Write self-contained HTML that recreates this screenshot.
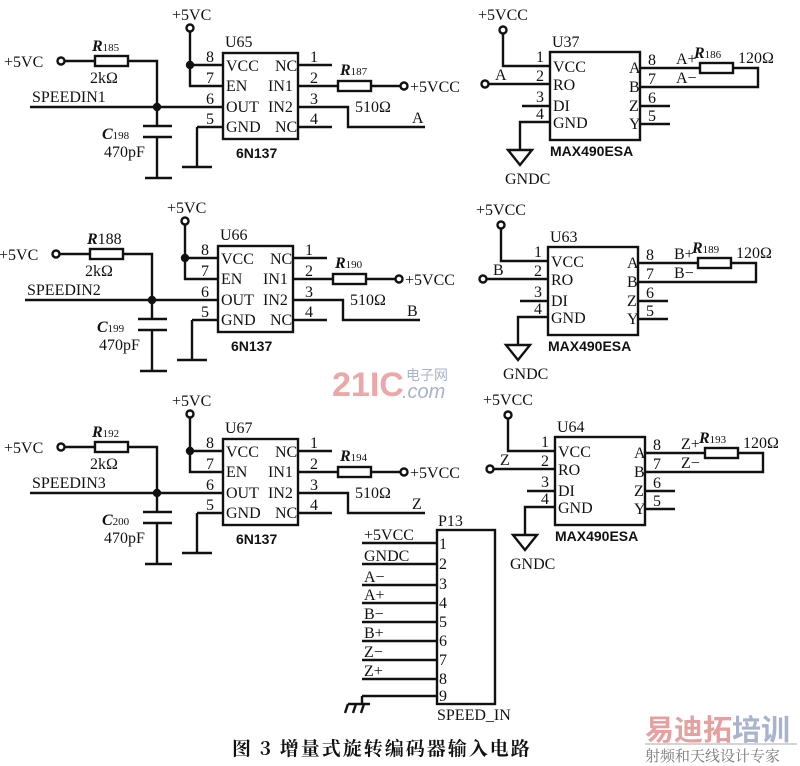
<!DOCTYPE html>
<html><head><meta charset="utf-8"><style>
html,body{margin:0;padding:0;background:#fff}
svg{display:block}
text{font-family:"Liberation Serif","Noto Serif CJK SC",serif;font-size:16px;fill:#111}
.b{font-family:"Liberation Sans",sans-serif;font-weight:bold;font-size:14px}
.s{font-size:11px}
.i{font-style:italic;font-weight:bold}
</style></head><body>
<svg width="800" height="766" viewBox="0 0 800 766" xmlns="http://www.w3.org/2000/svg">
<defs>
<g id="L" stroke="#111" stroke-width="2.4" fill="none">
<rect x="223" y="53" width="75" height="86"/>
<circle cx="190" cy="28" r="3.5"/>
<path d="M190 32V86H223M190 65H223M197 127H223M197 127V167M182 167H212"/>
<circle cx="61" cy="61" r="3.5"/>
<path d="M65 61H95M128 61H157V107M30 107H223M157 107V126M143 126H172M143 137H172M157 137V178M145 178H172"/>
<rect x="95" y="56" width="33" height="10"/>
<path d="M298 65H332M298 86H338M298 107H348V127H425M298 127H332M371 86H400"/>
<rect x="338" y="81" width="33" height="10"/>
<circle cx="404" cy="86" r="3.5"/>
<circle cx="190" cy="65" r="3" fill="#111"/>
<circle cx="157" cy="107" r="3" fill="#111"/>
</g>
<g id="LT">
<text x="172" y="20">+5VC</text>
<text x="4" y="67">+5VC</text>
<text x="90" y="83">2kΩ</text>
<text x="104" y="157">470pF</text>
<text x="206" y="62">8</text><text x="206" y="83">7</text><text x="206" y="104">6</text><text x="206" y="124">5</text>
<text x="226" y="71">VCC</text><text x="226" y="91">EN</text><text x="226" y="112">OUT</text><text x="226" y="132">GND</text>
<text x="275" y="71">NC</text><text x="268" y="91">IN1</text><text x="268" y="112">IN2</text><text x="275" y="132">NC</text>
<text x="310" y="62">1</text><text x="310" y="83">2</text><text x="310" y="104">3</text><text x="310" y="124">4</text>
<text x="355" y="112">510Ω</text>
<text x="410" y="92">+5VCC</text>
<text class="b" x="236" y="158">6N137</text>
</g>
<g id="R" stroke="#111" stroke-width="2.4" fill="none">
<rect x="550" y="52" width="90" height="88"/>
<circle cx="503" cy="30" r="3.5"/>
<path d="M503 34V66H550M489 84H550M522 106H550M550 122H520V150"/>
<circle cx="485" cy="84" r="3.5"/>
<path d="M508 150H532L520 165Z"/>
<path d="M640 68H700M733 68H758V87H640M640 106H670M640 124H670"/>
<rect x="700" y="63" width="33" height="10"/>
</g>
<g id="RT">
<text x="478" y="20">+5VCC</text>
<text x="536" y="62">1</text><text x="536" y="81">2</text><text x="536" y="102">3</text><text x="536" y="119">4</text>
<text x="553" y="72">VCC</text><text x="553" y="90">RO</text><text x="553" y="111">DI</text><text x="553" y="128">GND</text>
<text x="629" y="73">A</text><text x="629" y="92">B</text><text x="629" y="111">Z</text><text x="629" y="129">Y</text>
<text x="648" y="65">8</text><text x="648" y="84">7</text><text x="648" y="103">6</text><text x="648" y="121">5</text>
<text x="738" y="63">120Ω</text>
<text class="b" x="550" y="156">MAX490ESA</text>
<text x="505" y="184">GNDC</text>
</g>
</defs>

<use href="#L"/><use href="#LT"/>
<text x="32" y="102">SPEEDIN1</text>
<text class="i" x="92" y="51">R<tspan class="s" font-weight="normal" font-style="normal">185</tspan></text>
<text class="i" x="102" y="139">C<tspan class="s" font-weight="normal" font-style="normal">198</tspan></text>
<text x="225" y="47">U65</text>
<text class="i" x="340" y="75">R<tspan class="s" font-weight="normal" font-style="normal">187</tspan></text>
<text x="412" y="123">A</text>
<use href="#R"/><use href="#RT"/>
<text x="552" y="47">U37</text>
<text x="495" y="80">A</text>
<text x="676" y="64">A+</text><text x="676" y="83">A−</text>
<text class="i" x="694" y="58">R<tspan class="s" font-weight="normal" font-style="normal">186</tspan></text>

<g transform="translate(-5,193)">
<use href="#L"/><use href="#LT"/>
<text x="32" y="102">SPEEDIN2</text>
<text class="i" x="92" y="51">R<tspan font-weight="normal" font-style="normal">188</tspan></text>
<text class="i" x="102" y="139">C<tspan class="s" font-weight="normal" font-style="normal">199</tspan></text>
<text x="225" y="47">U66</text>
<text class="i" x="340" y="75">R<tspan class="s" font-weight="normal" font-style="normal">190</tspan></text>
<text x="412" y="123">B</text>
</g>
<g transform="translate(-2,195)">
<use href="#R"/><use href="#RT"/>
<text x="552" y="47">U63</text>
<text x="495" y="80">B</text>
<text x="676" y="64">B+</text><text x="676" y="83">B−</text>
<text class="i" x="694" y="58">R<tspan class="s" font-weight="normal" font-style="normal">189</tspan></text>
</g>

<text x="332" y="396" style="font-family:'Liberation Sans',sans-serif;font-weight:bold;font-size:34px;fill:#eba8a8">21IC</text>
<text x="406" y="380" style="font-family:'Noto Sans CJK SC',sans-serif;font-size:14px;fill:#a8b2cc">电子网</text>
<text x="402" y="398" style="font-family:'Liberation Sans',sans-serif;font-style:italic;font-size:20px;fill:#a8b2cc">.com</text>

<g transform="translate(0,386)">
<use href="#L"/><use href="#LT"/>
<text x="32" y="102">SPEEDIN3</text>
<text class="i" x="92" y="51">R<tspan class="s" font-weight="normal" font-style="normal">192</tspan></text>
<text class="i" x="102" y="139">C<tspan class="s" font-weight="normal" font-style="normal">200</tspan></text>
<text x="225" y="47">U67</text>
<text class="i" x="340" y="75">R<tspan class="s" font-weight="normal" font-style="normal">194</tspan></text>
<text x="412" y="123">Z</text>
</g>
<g transform="translate(5,385)">
<use href="#R"/><use href="#RT"/>
<text x="552" y="47">U64</text>
<text x="495" y="80">Z</text>
<text x="676" y="64">Z+</text><text x="676" y="83">Z−</text>
<text class="i" x="694" y="58">R<tspan class="s" font-weight="normal" font-style="normal">193</tspan></text>
</g>

<g stroke="#111" stroke-width="2.4" fill="none">
<rect x="437" y="530" width="58" height="174"/>
<path d="M362 543H437M362 564H437M362 585H437M362 603H437M362 622H437M362 641H437M362 660H437M362 679H437M362 696H437"/>
<path d="M362 696V704M348 704H370M348 704L345 713M356 704L353 713M364 704L361 713"/>
</g>
<text x="438" y="526">P13</text>
<text x="364" y="540">+5VCC</text>
<text x="364" y="561">GNDC</text>
<text x="364" y="582">A−</text>
<text x="364" y="600">A+</text>
<text x="364" y="619">B−</text>
<text x="364" y="638">B+</text>
<text x="364" y="657">Z−</text>
<text x="364" y="676">Z+</text>
<text x="439" y="549">1</text><text x="439" y="569">2</text><text x="439" y="589">3</text><text x="439" y="608">4</text><text x="439" y="627">5</text><text x="439" y="646">6</text><text x="439" y="665">7</text><text x="439" y="684">8</text><text x="439" y="701">9</text>
<text x="437" y="720">SPEED_IN</text>

<text x="232" y="755" style="font-family:'Noto Serif CJK SC','Noto Sans CJK SC',serif;font-size:19px;font-weight:bold;letter-spacing:2px">图 3  增量式旋转编码器输入电路</text>

<text x="645" y="740" style="font-family:'Noto Sans CJK SC',sans-serif;font-weight:bold;font-size:29px;fill:#e5a0a0">易迪拓<tspan fill="#a9b4cc">培训</tspan></text>
<line x1="645" y1="744" x2="797" y2="744" stroke="#aaa" stroke-width="1"/>
<text x="645" y="761" style="font-family:'Noto Serif CJK SC',serif;font-size:15px;fill:#777">射频和天线设计专家</text>
</svg>
</body></html>
